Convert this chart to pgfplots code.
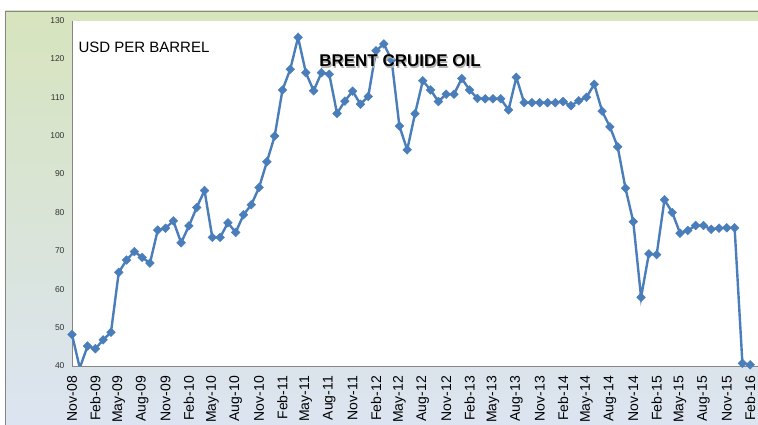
\documentclass[border=0pt]{standalone}
\usepackage{pgfplots}
\pgfplotsset{compat=1.18}
\usepackage{fontspec}
\setmainfont{Liberation Sans}
\definecolor{brent}{HTML}{4A7EBB}
\definecolor{axisgray}{HTML}{868686}
\definecolor{bgtop}{HTML}{D7E4BD}
\definecolor{bgmid}{HTML}{C4D4EA}
\definecolor{bgbot}{HTML}{DCE4F3}
\begin{document}
\begin{tikzpicture}[x=1pt,y=1pt]
  \useasboundingbox (-72,-59) rectangle (686,366);
  \clip (-72,-59) rectangle (686,366);
  % chart area background
  \shade[top color=bgtop, middle color=bgmid, bottom color=bgbot] (-67,-70) rectangle (700,355);
  \draw[axisgray, line width=0.8pt] (-67,-70) -- (-67,355) -- (700,355);
  \begin{axis}[
      at={(0,0)}, anchor=south west,
      scale only axis,
      width=686pt, height=345.5pt,
      xmin=0, xmax=88,
      ymin=40, ymax=130,
      axis background/.style={fill=white},
      axis x line*=bottom,
      axis y line*=left,
      axis line style={draw=axisgray, line width=0.8pt},
      major tick length=0pt,
      ytick={40,50,...,130},
      xtick={0,3,...,87},
      xticklabels={Nov-08,Feb-09,May-09,Aug-09,Nov-09,Feb-10,May-10,Aug-10,
        Nov-10,Feb-11,May-11,Aug-11,Nov-11,Feb-12,May-12,Aug-12,Nov-12,Feb-13,
        May-13,Aug-13,Nov-13,Feb-14,May-14,Aug-14,Nov-14,Feb-15,May-15,Aug-15,
        Nov-15,Feb-16},
      xticklabel style={rotate=90, anchor=east, inner xsep=10pt,
        font=\fontsize{14}{14}\selectfont},
      yticklabel style={font=\fontsize{8.5}{9}\selectfont, text=black!80, xshift=-4pt},
      /pgf/number format/assume math mode=true,
    ]
    % monthly Brent price, Nov-08 .. Feb-16
    \addplot[color=brent, line width=2.4pt, mark=square*, mark size=3.1pt,
      mark options={solid, rotate=45, fill=brent, draw=brent, line width=0.4pt}]
      coordinates {
        (0,48.2) (1,39.5) (2,45.2) (3,44.5) (4,46.8) (5,48.8)
        (6,64.4) (7,67.6) (8,69.8) (9,68.3) (10,66.8) (11,75.4)
        (12,75.9) (13,77.8) (14,72.1) (15,76.5) (16,81.3) (17,85.7)
        (18,73.5) (19,73.5) (20,77.3) (21,74.8) (22,79.4) (23,82.0)
        (24,86.5) (25,93.2) (26,99.9) (27,111.9) (28,117.3) (29,125.6)
        (30,116.4) (31,111.7) (32,116.4) (33,116.0) (34,105.8) (35,109.0)
        (36,111.6) (37,108.2) (38,110.2) (39,122.1) (40,123.9) (41,119.7)
        (42,102.5) (43,96.3) (44,105.7) (45,114.3) (46,111.9) (47,108.9)
        (48,110.8) (49,110.8) (50,114.9) (51,111.9) (52,109.7) (53,109.6)
        (54,109.6) (55,109.6) (56,106.7) (57,115.2) (58,108.6) (59,108.6)
        (60,108.6) (61,108.6) (62,108.6) (63,108.9) (64,107.8) (65,109.1)
        (66,110.0) (67,113.4) (68,106.4) (69,102.3) (70,97.1) (71,86.3)
        (72,77.6) (73,57.9) (74,69.2) (75,69.0) (76,83.3) (77,80.0)
        (78,74.6) (79,75.3) (80,76.6) (81,76.6) (82,75.6) (83,75.9)
        (84,76.0) (85,76.0) (86,40.7) (87,40.3)
      };
  \end{axis}
  \node[anchor=west, font=\fontsize{15}{15}\selectfont] at (3,319) {USD PER BARREL};
  \node[text=black!30, font=\bfseries\fontsize{17}{17}\selectfont] at (329.2,303.8) {BRENT CRUIDE OIL};
  \node[text=black, font=\bfseries\fontsize{17}{17}\selectfont] at (328,305) {BRENT CRUIDE OIL};
\end{tikzpicture}
\end{document}
